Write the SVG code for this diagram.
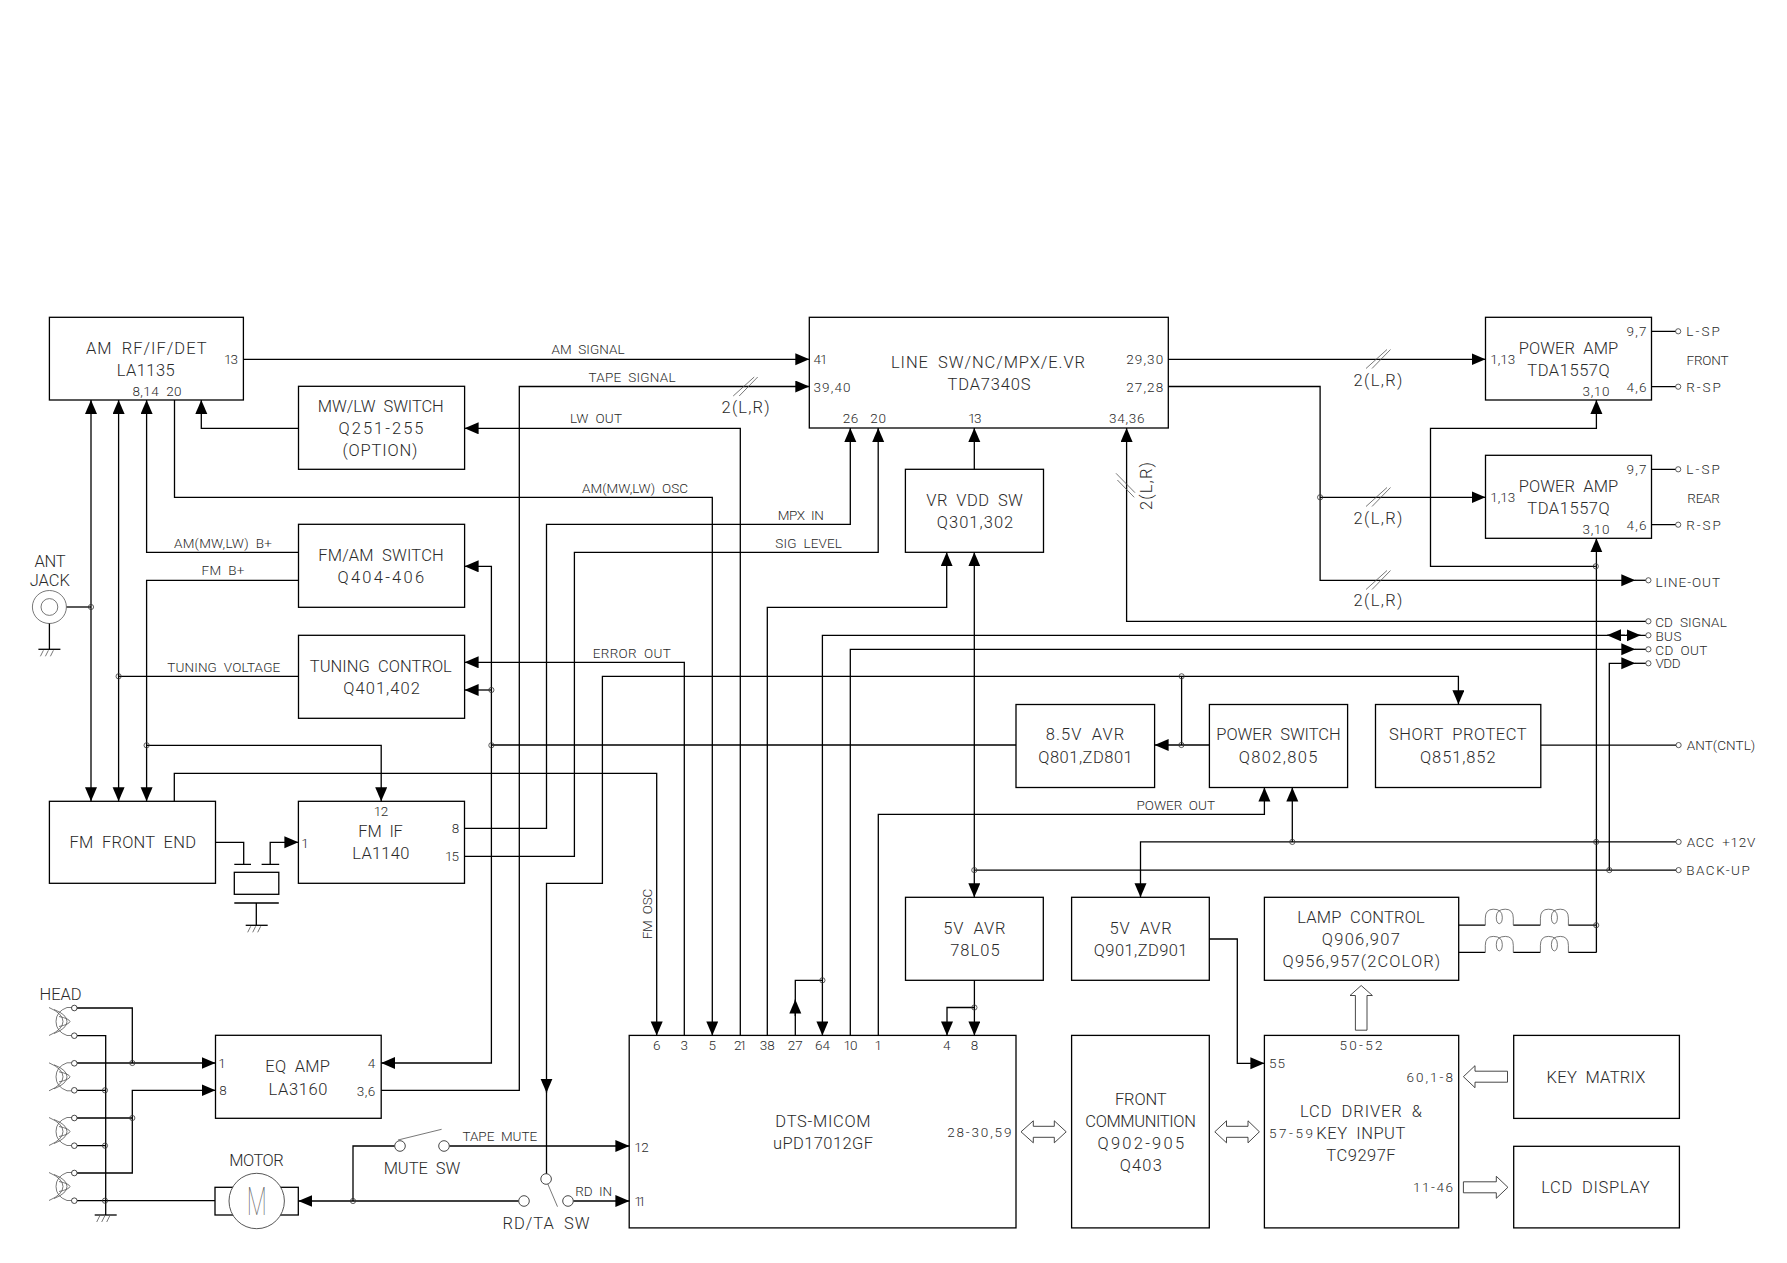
<svg xmlns="http://www.w3.org/2000/svg" width="1787" height="1263" viewBox="0 0 1787 1263">
<style>
text{font-family:Roboto,"Liberation Sans",sans-serif;font-weight:300;fill:#2a2a2a;text-anchor:middle;word-spacing:.25em}
.l{font-size:16.5px}
.s{font-size:13.5px}
.box{fill:none;stroke:#000;stroke-width:1.3}
.w{fill:none;stroke:#000;stroke-width:1.3}
.a{marker-end:url(#ah)}
.b{marker-start:url(#ah);marker-end:url(#ah)}
.dot{fill:none;stroke:#333;stroke-width:.8}
.pin{fill:#fff;stroke:#333;stroke-width:.9}
.thin{fill:none;stroke:#555;stroke-width:.8}
.hollow{fill:#fff;stroke:#333;stroke-width:.9}
</style>
<defs>
<marker id="ah" markerUnits="userSpaceOnUse" markerWidth="15" markerHeight="13" refX="14" refY="6" orient="auto-start-reverse"><path d="M0 0L14 6L0 12Z" fill="#000"/></marker>
<g id="gnd"><path class="w" d="M-11 0H11"/><path class="thin" d="M-6 1L-9 7M-1 1L-4 7M4 1L1 7"/></g>
<circle id="j" class="dot" r="2.6"/>
<path id="coil" class="thin" d="M0 0V-7Q0-16 8-16Q17-16 17-8Q17-2 14-1.500M28 0V-7Q28-16 20-16Q11-16 11-8Q11-2 14-1.500"/>
<path id="headcoil" class="thin" d="M0 0Q14 6 14 14Q14 22 0 28M5 2Q18 7 18 14Q18 21 5 26M18 0Q7 4 7 14Q7 24 18 28M10 9Q20 11 21 14Q20 17 10 19M18 0H23M18 28H23"/>
<path id="slash" class="thin" d="M0 19L21 0M6 19L24.500 0"/>
</defs>

<g id="connectors">
<path class="w a" d="M243.400 359.300H809.300"/>
<path class="w a" d="M381.200 1090.300H519.300V386.500H809.300"/>
<path class="w a" d="M740.300 1035.400V428.300H464.600"/>
<path class="w a" d="M298.500 428.300H201.300V400"/>
<path class="w a" d="M174.500 400V497.300H712.300V1035.400"/>
<path class="w a" d="M298.500 552.300H146.600V400"/>
<path class="w a" d="M298.500 580.300H146.600V801.300"/>
<path class="w b" d="M91 400V801.300"/>
<path class="w b" d="M118.600 400V801.300"/>
<path class="w" d="M298.500 676.300H118.600"/>
<path class="w" d="M66.500 607H91"/>
<path class="w b" d="M464.600 566.300H491.400V1063H381.200"/>
<path class="w a" d="M491.400 690H464.600"/>
<path class="w" d="M1016 745H491.400"/>
<path class="w a" d="M146.600 745.300H381.200V801.300"/>
<path class="w a" d="M174.300 801.300V773.300H656.700V1035.400"/>
<path class="w a" d="M464.500 828.300H546.500V524.300H850.300V428"/>
<path class="w a" d="M464.500 856.300H574.400V552.300H878.200V428"/>
<path class="w a" d="M684.300 1035.400V662.300H464.600"/>
<path class="w a" d="M546.500 1174V883.300H602.400V676.300H1458.400V704.300"/>
<path class="w a" d="M546.500 1080V1092.700"/>
<path class="w a" d="M767.300 1035.400V607.300H946.700V552.300"/>
<path class="w b" d="M974.300 552.300V897.300"/>
<path class="w a" d="M974.300 469.300V428"/>
<path class="w a" d="M1645.800 635.300H822.400V1035.400"/>
<path class="w a" d="M1625 635.300H1607"/>
<path class="w a" d="M1626 635.300H1640.700"/>
<path class="w a" d="M850.300 1035.400V649.300H1635.300"/>
<path class="w" d="M1635 649.300H1645.800"/>
<path class="w a" d="M1645.800 621.300H1126.600V428"/>
<path class="w a" d="M878.300 1035.400V814.300H1264.400V787.500"/>
<path class="w a" d="M1676 841.900H1140.500V897.300"/>
<path class="w a" d="M1292.300 841.900V787.500"/>
<path class="w" d="M1676 870.100H974.300"/>
<path class="w a" d="M1609.300 870.100V663.300H1635.300"/>
<path class="w" d="M1635 663.300H1645.800"/>
<path class="w a" d="M1209.400 745H1154.600"/>
<path class="w" d="M1181.600 745V676.300"/>
<path class="w" d="M1540.800 745.100H1676"/>
<path class="w a" d="M1168.300 359.300H1485.500"/>
<path class="w a" d="M1168.300 386.500H1320.100V580.300H1635.300"/>
<path class="w" d="M1635 580.300H1645.800"/>
<path class="w a" d="M1320.100 497.300H1485.500"/>
<path class="w a" d="M1596.400 952.400V538.300"/>
<path class="w a" d="M1595.800 566.300H1430.500V428.300H1596.400V400"/>
<path class="w" d="M1458.700 925.200H1485.300M1513.300 925.200H1540.400M1568.400 925.200H1596.400M1458.700 952.400H1485.300M1513.300 952.400H1540.400M1568.400 952.400H1596.400"/>
<use href="#coil" x="1485.300" y="925.200"/><use href="#coil" x="1540.400" y="925.200"/>
<use href="#coil" x="1485.300" y="952.400"/><use href="#coil" x="1540.400" y="952.400"/>
<path class="w" d="M1651.500 331.300H1675.600M1651.500 386.700H1675.600M1651.500 469.300H1675.600M1651.500 524.700H1675.600"/>
<path class="w a" d="M1209.300 939H1237.300V1063.300H1264.400"/>
<path class="w" d="M795.300 1035.400V980.300H822.400"/>
<path class="w a" d="M795.300 1016V999.600"/>
<path class="w a" d="M974.400 980.300V1035.400"/>
<path class="w a" d="M974.400 1007.500H947V1035.400"/>
<path class="w" d="M77 1008H132.300V1063M77 1035.700H105.700V1215M77 1090.300H105.700M77 1118H132.300M77 1145.700H105.700M77 1200.700H215"/>
<path class="w a" d="M77 1063H215.500"/>
<path class="w a" d="M77 1173H132.300V1090.300H215.500"/>
<path class="w" d="M215.500 842.300H243.700V864.300"/>
<path class="w a" d="M270.200 864.300V842.300H298.400"/>
<path class="w a" d="M518.700 1201H298.300"/>
<path class="w" d="M353 1201V1146H394.700"/>
<path class="w a" d="M449.300 1146H629.400"/>
<path class="w a" d="M573.300 1201H629.400"/>
<!-- junction marks -->
<use href="#j" x="91" y="607"/><use href="#j" x="118.600" y="676.300"/><use href="#j" x="146.600" y="745.300"/>
<use href="#j" x="491.400" y="690"/><use href="#j" x="491.400" y="745.300"/><use href="#j" x="1181.600" y="676.300"/>
<use href="#j" x="1181.400" y="745"/><use href="#j" x="1320.100" y="497.300"/><use href="#j" x="1595.800" y="566.300"/>
<use href="#j" x="1292.300" y="841.900"/><use href="#j" x="1596.200" y="841.900"/><use href="#j" x="1609.300" y="870.100"/>
<use href="#j" x="974.300" y="870.100"/><use href="#j" x="1596.200" y="925.200"/><use href="#j" x="822.400" y="980.300"/>
<use href="#j" x="974.400" y="1007.500"/><use href="#j" x="132.300" y="1063"/><use href="#j" x="132.300" y="1118"/>
<use href="#j" x="105" y="1090.300"/><use href="#j" x="105" y="1145.700"/><use href="#j" x="105" y="1200.700"/>
<use href="#j" x="353" y="1201"/>
<use href="#j" x="1678.200" y="331.300"/><use href="#j" x="1678.200" y="386.700"/><use href="#j" x="1678.200" y="469.300"/><use href="#j" x="1678.200" y="524.700"/>
<use href="#j" x="1648.400" y="580.300"/><use href="#j" x="1648.400" y="621.300"/><use href="#j" x="1648.400" y="635.300"/><use href="#j" x="1648.400" y="649.300"/><use href="#j" x="1648.400" y="663.300"/>
<use href="#j" x="1678.600" y="745.100"/><use href="#j" x="1678.600" y="841.900"/><use href="#j" x="1678.600" y="870.100"/>
<!-- bus width ticks -->
<use href="#slash" x="733.200" y="377"/><use href="#slash" x="1366" y="349.500"/><use href="#slash" x="1366" y="487.500"/><use href="#slash" x="1366" y="570.500"/>
<path class="thin" d="M1116 473.300L1135 492.700M1117.400 480L1134.200 497.300"/>
<!-- hollow data-bus arrows -->
<path class="hollow" d="M1361.200 985.500L1372.400 995.500H1367V1030.200H1355.400V995.500H1350Z"/>
<path class="hollow" d="M1463.400 1076.700L1475 1065.700V1071.200H1507.500V1082.200H1475V1087.700Z"/>
<path class="hollow" d="M1507.900 1187.300L1496.300 1176.300V1181.800H1463.400V1192.800H1496.300V1198.300Z"/>
<path class="hollow" d="M1021 1131.800L1033.300 1120.800V1126.300H1054.300V1120.800L1066.200 1131.800L1054.300 1142.800V1137.300H1033.300V1142.800Z"/>
<path class="hollow" d="M1214.800 1131.800L1226.500 1120.800V1126.300H1248V1120.800L1259.400 1131.800L1248 1142.800V1137.300H1226.500V1142.800Z"/>
</g>

<g id="bus-labels">
<text class="s" x="588" y="354" textLength="73">AM SIGNAL</text>
<text class="s" x="632" y="382" textLength="87">TAPE SIGNAL</text>
<text class="s" x="596" y="423.300" textLength="52">LW OUT</text>
<text class="s" x="635" y="492.500" textLength="106">AM(MW,LW) OSC</text>
<text class="s" x="800.800" y="520" textLength="46">MPX IN</text>
<text class="s" x="808.600" y="547.700" textLength="66.600">SIG LEVEL</text>
<text class="s" x="631.700" y="658" textLength="78">ERROR OUT</text>
<text class="s" x="223" y="547.700" textLength="98">AM(MW,LW) B+</text>
<text class="s" x="223" y="575" textLength="43">FM B+</text>
<text class="s" x="223.700" y="671.700" textLength="113">TUNING VOLTAGE</text>
<text class="s" x="1175.700" y="809.700" textLength="78.500">POWER OUT</text>
<text class="s" x="652" y="914" textLength="50.600" transform="rotate(-90 652 914)">FM OSC</text>
<text class="s" x="499.800" y="1141" textLength="74.700">TAPE MUTE</text>
<text class="s" x="593.700" y="1196" textLength="37">RD IN</text>
<text class="l" x="745.600" y="413" textLength="48">2(L,R)</text>
<text class="l" x="1152" y="486" textLength="48" transform="rotate(-90 1152 486)">2(L,R)</text>
<text class="l" x="1378" y="385.500" textLength="49">2(L,R)</text>
<text class="l" x="1378" y="523.500" textLength="49">2(L,R)</text>
<text class="l" x="1378" y="605.500" textLength="49">2(L,R)</text>
<text class="s" x="1703" y="336.300" textLength="33.600">L-SP</text>
<text class="s" x="1703.500" y="391.700" textLength="34.500">R-SP</text>
<text class="s" x="1707.500" y="364.700" textLength="42">FRONT</text>
<text class="s" x="1703" y="474.300" textLength="33.600">L-SP</text>
<text class="s" x="1703.500" y="529.700" textLength="34.500">R-SP</text>
<text class="s" x="1703.600" y="502.700" textLength="32.500">REAR</text>
<text class="s" x="1687.700" y="586.500" textLength="64.600">LINE-OUT</text>
<text class="s" x="1691" y="627" textLength="71.600">CD SIGNAL</text>
<text class="s" x="1668.400" y="640.700" textLength="26">BUS</text>
<text class="s" x="1681.300" y="654.700" textLength="52">CD OUT</text>
<text class="s" x="1668" y="668.300" textLength="25">VDD</text>
<text class="s" x="1721" y="750" textLength="68.500">ANT(CNTL)</text>
<text class="s" x="1721" y="847" textLength="68.500">ACC +12V</text>
<text class="s" x="1718" y="875" textLength="63.500">BACK-UP</text>
</g>

<g id="am-rf"><rect class="box" x="49.400" y="317.300" width="194" height="82.700"/>
<text class="l" x="146.300" y="353.700" textLength="120.500">AM RF/IF/DET</text><text class="l" x="145.700" y="376" textLength="58">LA1135</text>
<text class="s" x="231" y="364" textLength="14">13</text><text class="s" x="157" y="395.500" textLength="49">8,14 20</text></g>
<g id="mw-lw-switch"><rect class="box" x="298.500" y="386.300" width="166.100" height="83"/>
<text class="l" x="380.800" y="412" textLength="126">MW/LW SWITCH</text><text class="l" x="381" y="434" textLength="85">Q251-255</text><text class="l" x="380" y="456.300" textLength="75">(OPTION)</text></g>
<g id="fm-am-switch"><rect class="box" x="298.500" y="524.300" width="166.100" height="83"/>
<text class="l" x="381" y="561.300" textLength="125.500">FM/AM SWITCH</text><text class="l" x="380.800" y="583.300" textLength="86.500">Q404-406</text></g>
<g id="tuning-control"><rect class="box" x="298.500" y="635.300" width="166.100" height="83"/>
<text class="l" x="380.800" y="672" textLength="142">TUNING CONTROL</text><text class="l" x="381.600" y="694" textLength="76.500">Q401,402</text></g>
<g id="ant-jack"><text class="l" x="50" y="567" textLength="31">ANT</text><text class="l" x="49.800" y="586" textLength="40">JACK</text>
<ellipse class="thin" cx="49.400" cy="607" rx="17" ry="16.500"/><ellipse class="thin" cx="49.400" cy="607" rx="8.400" ry="8.400"/>
<path class="w" d="M49.400 623.500V649.300"/><use href="#gnd" x="49.400" y="649.300"/></g>
<g id="fm-front-end"><rect class="box" x="49.400" y="801.300" width="166.100" height="82"/>
<text class="l" x="132.700" y="848.300" textLength="126.500">FM FRONT END</text></g>
<g id="fm-if"><rect class="box" x="298.400" y="801.300" width="166.100" height="82"/>
<text class="s" x="381" y="815.700" textLength="14.300">12</text><text class="l" x="380.600" y="837.300" textLength="44.500">FM IF</text><text class="l" x="380.800" y="859.300" textLength="57">LA1140</text>
<text class="s" x="305" y="847.700">1</text><text class="s" x="455.500" y="833.300">8</text><text class="s" x="452" y="861.300" textLength="14">15</text></g>
<g id="ceramic-filter"><rect class="box" x="234.300" y="872.300" width="44.500" height="22"/>
<path class="w" d="M234.300 864.300H251M261.600 864.300H279.200M234.300 903H278.800M256.300 903V925.300"/><use href="#gnd" x="256.700" y="925.300"/></g>
<g id="eq-amp"><rect class="box" x="215.500" y="1035.300" width="165.700" height="83"/>
<text class="l" x="297.600" y="1072" textLength="64.500">EQ AMP</text><text class="l" x="298" y="1094.700" textLength="59">LA3160</text>
<text class="s" x="222" y="1068">1</text><text class="s" x="223" y="1095.300">8</text><text class="s" x="371.400" y="1068">4</text><text class="s" x="366" y="1095.500" textLength="18.500">3,6</text></g>
<g id="head"><text class="l" x="60.600" y="1000" textLength="42">HEAD</text>
<use href="#headcoil" x="49" y="1007.500"/><use href="#headcoil" x="49" y="1062.800"/><use href="#headcoil" x="49" y="1117.500"/><use href="#headcoil" x="49" y="1172.500"/>
<circle class="pin" cx="74.300" cy="1008" r="2.800"/><circle class="pin" cx="74.300" cy="1035.700" r="2.800"/><circle class="pin" cx="74.300" cy="1063.300" r="2.800"/><circle class="pin" cx="74.300" cy="1090.300" r="2.800"/>
<circle class="pin" cx="74.300" cy="1118" r="2.800"/><circle class="pin" cx="74.300" cy="1145.700" r="2.800"/><circle class="pin" cx="74.300" cy="1173" r="2.800"/><circle class="pin" cx="74.300" cy="1200.700" r="2.800"/>
<use href="#gnd" x="105.700" y="1215"/></g>
<g id="motor"><text class="l" x="256.500" y="1166" textLength="54.300">MOTOR</text>
<rect class="box" x="215" y="1187.300" width="83.300" height="27.700"/><circle cx="256.700" cy="1201" r="27.700" fill="#fff" stroke="#444" stroke-width=".9"/>
<text x="256.700" y="1215" textLength="20" lengthAdjust="spacingAndGlyphs" style="font-size:39px;font-weight:100;fill:#666">M</text></g>
<g id="mute-sw"><circle class="pin" cx="400" cy="1146" r="5.300"/><circle class="pin" cx="444" cy="1146" r="5.300"/>
<path class="thin" d="M398 1140L441.600 1129.300"/><text class="l" x="422" y="1174" textLength="76.700">MUTE SW</text></g>
<g id="rd-ta-sw"><circle class="pin" cx="546.100" cy="1179" r="5.300"/><circle class="pin" cx="524" cy="1201" r="5.300"/><circle class="pin" cx="568" cy="1201" r="5.300"/>
<path class="thin" d="M547.800 1184L557.500 1206.700"/><text class="l" x="546" y="1229" textLength="87">RD/TA SW</text></g>
<g id="line-sw"><rect class="box" x="809.300" y="317.300" width="359" height="110.700"/>
<text class="l" x="988" y="368" textLength="194">LINE SW/NC/MPX/E.VR</text><text class="l" x="989" y="390.300" textLength="83">TDA7340S</text>
<text class="s" x="820.400" y="364.300" textLength="14">41</text><text class="s" x="832" y="392.300" textLength="37">39,40</text><text class="s" x="1144.700" y="364" textLength="37">29,30</text><text class="s" x="1144.700" y="391.700" textLength="37">27,28</text>
<text class="s" x="850.500" y="423.300" textLength="15.700">26</text><text class="s" x="878.200" y="423.300" textLength="15.700">20</text><text class="s" x="974.800" y="423.300" textLength="13.500">13</text><text class="s" x="1126.800" y="423.300" textLength="35.500">34,36</text></g>
<g id="vr-vdd-sw"><rect class="box" x="905.400" y="469.300" width="138.100" height="83"/>
<text class="l" x="974.600" y="506" textLength="96.500">VR VDD SW</text><text class="l" x="975" y="528" textLength="76.500">Q301,302</text></g>
<g id="power-amp-front"><rect class="box" x="1485.500" y="317.300" width="166" height="82.700"/>
<text class="l" x="1568.500" y="354.300" textLength="99.500">POWER AMP</text><text class="l" x="1568.500" y="376.300" textLength="82.500">TDA1557Q</text>
<text class="s" x="1636.500" y="336.300" textLength="20">9,7</text><text class="s" x="1636.500" y="391.700" textLength="20">4,6</text><text class="s" x="1502.700" y="364.300" textLength="25">1,13</text><text class="s" x="1596" y="395.700" textLength="27">3,10</text></g>
<g id="power-amp-rear"><rect class="box" x="1485.500" y="455.300" width="166" height="83"/>
<text class="l" x="1568.500" y="492" textLength="99.500">POWER AMP</text><text class="l" x="1568.500" y="514" textLength="82.500">TDA1557Q</text>
<text class="s" x="1636.500" y="474.300" textLength="20">9,7</text><text class="s" x="1636.500" y="529.700" textLength="20">4,6</text><text class="s" x="1502.700" y="502.300" textLength="25">1,13</text><text class="s" x="1596" y="533.700" textLength="27">3,10</text></g>
<g id="avr-85"><rect class="box" x="1016" y="704.500" width="138.600" height="83"/>
<text class="l" x="1085" y="740.400" textLength="78.500">8.5V AVR</text><text class="l" x="1085.500" y="762.800" textLength="94.500">Q801,ZD801</text></g>
<g id="power-switch"><rect class="box" x="1209.400" y="704.500" width="138.200" height="83"/>
<text class="l" x="1278.500" y="740.400" textLength="124.300">POWER SWITCH</text><text class="l" x="1278" y="762.800" textLength="78.600">Q802,805</text></g>
<g id="short-protect"><rect class="box" x="1375.500" y="704.500" width="165.300" height="83"/>
<text class="l" x="1457.800" y="740.400" textLength="137.500">SHORT PROTECT</text><text class="l" x="1457.800" y="762.800" textLength="75.500">Q851,852</text></g>
<g id="avr-78l05"><rect class="box" x="905.500" y="897.300" width="137.800" height="83"/>
<text class="l" x="974.400" y="933.600" textLength="62.400">5V AVR</text><text class="l" x="974.900" y="956.300" textLength="49.400">78L05</text></g>
<g id="avr-q901"><rect class="box" x="1071.600" y="897.300" width="137.700" height="83"/>
<text class="l" x="1140.600" y="933.600" textLength="62.400">5V AVR</text><text class="l" x="1140.600" y="956.300" textLength="93.700">Q901,ZD901</text></g>
<g id="lamp-control"><rect class="box" x="1264.400" y="897.300" width="194.300" height="83"/>
<text class="l" x="1361" y="923" textLength="127.400">LAMP CONTROL</text><text class="l" x="1360.800" y="945" textLength="78">Q906,907</text><text class="l" x="1361.400" y="967.400" textLength="157.600">Q956,957(2COLOR)</text></g>
<g id="dts-micom"><rect class="box" x="629.200" y="1035.400" width="386.800" height="192.500"/>
<text class="l" x="823" y="1127" textLength="95.300">DTS-MICOM</text><text class="l" x="823" y="1149.200" textLength="100">uPD17012GF</text>
<text class="s" x="979.300" y="1136.800" textLength="64.300">28-30,59</text><text class="s" x="641.500" y="1151.600" textLength="14.500">12</text><text class="s" x="640" y="1206.400" textLength="11.500">11</text>
<text class="s" x="656.700" y="1050">6</text><text class="s" x="684.300" y="1050">3</text><text class="s" x="712.200" y="1050">5</text><text class="s" x="740.500" y="1050" textLength="13">21</text><text class="s" x="767.300" y="1050" textLength="15">38</text><text class="s" x="795.300" y="1050" textLength="15">27</text><text class="s" x="822.400" y="1050" textLength="15">64</text><text class="s" x="850.400" y="1050" textLength="14">10</text><text class="s" x="878.300" y="1050">1</text><text class="s" x="946.800" y="1050">4</text><text class="s" x="974.400" y="1050">8</text></g>
<g id="front-communition"><rect class="box" x="1071.600" y="1035.400" width="137.700" height="192.500"/>
<text class="l" x="1140.800" y="1104.800" textLength="51.700">FRONT</text><text class="l" x="1140.600" y="1127" textLength="110.600">COMMUNITION</text><text class="l" x="1140.800" y="1149.200" textLength="86.500">Q902-905</text><text class="l" x="1140.800" y="1171.200" textLength="42">Q403</text></g>
<g id="lcd-driver"><rect class="box" x="1264.400" y="1035.400" width="194.300" height="192.500"/>
<text class="s" x="1361" y="1050" textLength="43">50-52</text><text class="s" x="1277" y="1068.300" textLength="16">55</text><text class="s" x="1429.700" y="1081.700" textLength="46.500">60,1-8</text>
<text class="l" x="1361" y="1116.500" textLength="122">LCD DRIVER &amp;</text><text class="s" x="1291" y="1137.500" textLength="43.800">57-59</text><text class="l" x="1360.800" y="1138.500" textLength="89">KEY INPUT</text><text class="l" x="1361" y="1160.500" textLength="69.300">TC9297F</text><text class="s" x="1433" y="1192.300" textLength="40">11-46</text></g>
<g id="key-matrix"><rect class="box" x="1513.700" y="1035.400" width="165.700" height="83"/><text class="l" x="1596" y="1082.700" textLength="98.800">KEY MATRIX</text></g>
<g id="lcd-display"><rect class="box" x="1513.700" y="1146.300" width="165.700" height="81.600"/><text class="l" x="1595.400" y="1193.300" textLength="108.400">LCD DISPLAY</text></g>
</svg>
